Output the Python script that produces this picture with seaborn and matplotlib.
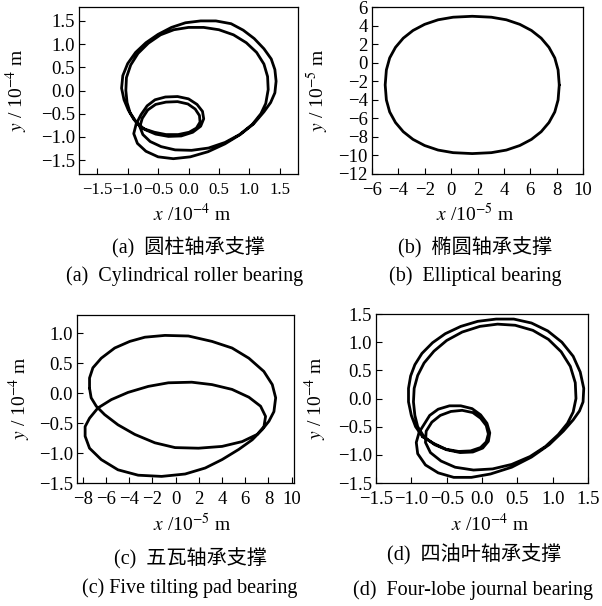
import matplotlib
matplotlib.use("Agg")
import matplotlib.pyplot as plt
import pandas as pd
import seaborn as sns

# ---------------- orbit data (units shown on each axis label) ----------------
# (a) cylindrical roller bearing: big loop, inner loop, second big loop, second inner loop
a_big1_x = [-0.78, -0.90, -0.99, -1.06, -1.10, -1.08, -1.00, -0.87, -0.70, -0.50, -0.28, -0.05, 0.20, 0.45, 0.70,
            0.90, 1.08, 1.24, 1.36, 1.42, 1.44, 1.42, 1.35, 1.24, 1.07, 0.85, 0.60, 0.32, 0.03, -0.25,
            -0.50, -0.70, -0.84, -0.90, -0.86]
a_big1_y = [-0.80, -0.62, -0.42, -0.20, 0.05, 0.32, 0.58, 0.82, 1.03, 1.21, 1.36, 1.46, 1.50, 1.50, 1.44,
            1.30, 1.12, 0.90, 0.68, 0.45, 0.20, -0.05, -0.26, -0.46, -0.72, -0.95, -1.15, -1.32, -1.43, -1.47,
            -1.43, -1.31, -1.14, -0.93, -0.72]
a_small1_x = [-0.78, -0.68, -0.55, -0.38, -0.18, 0.00, 0.14, 0.23, 0.25, 0.20, 0.07, -0.12, -0.33, -0.54, -0.72]
a_small1_y = [-0.52, -0.33, -0.20, -0.14, -0.13, -0.18, -0.30, -0.45, -0.61, -0.77, -0.90, -0.98, -0.99, -0.94, -0.84]
a_big2_x = [-0.86, -0.96, -1.01, -1.03, -1.02, -0.95, -0.83, -0.66, -0.46, -0.24, 0.00, 0.25, 0.50, 0.74, 0.95,
            1.12, 1.24, 1.30, 1.31, 1.27, 1.19, 1.05, 0.84, 0.60, 0.33, 0.05, -0.22, -0.45, -0.63, -0.75, -0.80]
a_big2_y = [-0.68, -0.48, -0.26, 0.00, 0.28, 0.55, 0.80, 1.02, 1.20, 1.31, 1.36, 1.36, 1.31, 1.20, 1.03,
            0.82, 0.57, 0.30, 0.02, -0.28, -0.50, -0.73, -0.95, -1.12, -1.24, -1.29, -1.28, -1.21, -1.10, -0.95, -0.78]
a_small2_x = [-0.76, -0.67, -0.54, -0.37, -0.18, -0.01, 0.11, 0.18, 0.19, 0.13, 0.01, -0.17, -0.37, -0.56, -0.70, -0.78]
a_small2_y = [-0.60, -0.42, -0.30, -0.25, -0.24, -0.29, -0.40, -0.54, -0.68, -0.81, -0.90, -0.95, -0.95, -0.90, -0.84, -0.80]

# (b) elliptical bearing: single closed orbit
b_x = [8.20, 8.11, 7.86, 7.42, 6.83, 6.09, 5.21, 4.19, 3.05, 1.60, 0.15, -0.99, -2.01, -2.89, -3.63,
       -4.22, -4.66, -4.91, -5.00, -4.91, -4.66, -4.22, -3.63, -2.89, -2.01, -0.99, 0.15, 1.60, 3.05, 4.19,
       5.21, 6.09, 6.83, 7.42, 7.86, 8.11, 8.20]
b_y = [-2.40, -0.78, 0.51, 1.65, 2.64, 3.47, 4.13, 4.62, 4.90, 5.00, 4.90, 4.62, 4.13, 3.47, 2.64,
       1.65, 0.51, -0.78, -2.40, -4.02, -5.31, -6.45, -7.44, -8.27, -8.93, -9.42, -9.70, -9.80, -9.70, -9.42,
       -8.93, -8.27, -7.44, -6.45, -5.31, -4.02, -2.40]

# (c) five tilting pad bearing: two interlaced loops traced as one path
c_x = [-7.42, -7.42, -7.13, -6.41, -5.25, -3.95, -2.65, -0.92, 1.10, 3.13, 4.86, 6.31, 7.60, 8.33, 8.62,
       8.47, 8.04, 7.46, 6.60, 5.44, 4.00, 2.55, 0.82, -1.21, -3.23, -4.97, -6.41, -7.42, -7.80, -7.80,
       -7.42, -6.70, -5.54, -4.10, -2.36, -0.63, 1.39, 3.13, 4.86, 6.31, 7.32, 7.75, 7.61, 7.03, 5.73,
       4.00, 1.97, -0.05, -1.79, -3.52, -4.97, -6.12, -6.84, -7.28, -7.42]
c_y = [0.08, 0.25, 0.42, 0.58, 0.75, 0.86, 0.93, 0.96, 0.95, 0.86, 0.75, 0.58, 0.36, 0.14, -0.08,
       -0.31, -0.47, -0.61, -0.78, -0.94, -1.11, -1.25, -1.35, -1.39, -1.37, -1.28, -1.11, -0.92, -0.72, -0.56,
       -0.42, -0.25, -0.11, 0.01, 0.11, 0.17, 0.18, 0.14, 0.06, -0.07, -0.22, -0.39, -0.56, -0.69, -0.81,
       -0.89, -0.92, -0.91, -0.83, -0.69, -0.53, -0.36, -0.22, -0.08, 0.08]

# (d) four-lobe journal bearing
d_big1_x = [-0.84, -0.94, -1.00, -1.04, -1.04, -1.01, -0.95, -0.85, -0.70, -0.52, -0.30, -0.06, 0.20, 0.45, 0.70,
            0.93, 1.13, 1.29, 1.39, 1.44, 1.43, 1.38, 1.29, 1.15, 0.95, 0.70, 0.42, 0.12, -0.15, -0.40,
            -0.62, -0.80, -0.91, -0.93, -0.89]
d_big1_y = [-0.68, -0.50, -0.30, -0.06, 0.18, 0.40, 0.60, 0.80, 0.99, 1.15, 1.28, 1.37, 1.41, 1.41, 1.34,
            1.20, 1.00, 0.75, 0.47, 0.18, -0.06, -0.22, -0.38, -0.58, -0.82, -1.04, -1.22, -1.34, -1.40, -1.40,
            -1.32, -1.18, -0.98, -0.78, -0.60]
d_small1_x = [-0.82, -0.74, -0.62, -0.46, -0.30, -0.14, -0.02, 0.07, 0.11, 0.09, 0.01, -0.13, -0.31, -0.50, -0.67]
d_small1_y = [-0.46, -0.30, -0.19, -0.13, -0.13, -0.18, -0.29, -0.44, -0.61, -0.76, -0.88, -0.95, -0.96, -0.91, -0.82]
d_big2_x = [-0.82, -0.91, -0.95, -0.97, -0.96, -0.91, -0.82, -0.68, -0.50, -0.28, -0.03, 0.22, 0.47, 0.72, 0.94,
            1.12, 1.25, 1.32, 1.33, 1.29, 1.21, 1.08, 0.90, 0.68, 0.42, 0.15, -0.12, -0.38, -0.58, -0.73, -0.80]
d_big2_y = [-0.68, -0.50, -0.30, -0.06, 0.18, 0.41, 0.63, 0.84, 1.03, 1.18, 1.28, 1.32, 1.30, 1.21, 1.05,
            0.83, 0.57, 0.28, 0.00, -0.24, -0.44, -0.64, -0.85, -1.03, -1.17, -1.25, -1.27, -1.22, -1.11, -0.96, -0.78]
d_small2_x = [-0.79, -0.71, -0.59, -0.44, -0.28, -0.13, -0.02, 0.06, 0.09, 0.06, -0.02, -0.16, -0.33, -0.51, -0.68, -0.84]
d_small2_y = [-0.58, -0.42, -0.30, -0.23, -0.21, -0.25, -0.35, -0.48, -0.63, -0.77, -0.87, -0.93, -0.94, -0.90, -0.80, -0.68]

# tick values
a_xticks = [-1.5, -1.0, -0.5, 0.0, 0.5, 1.0, 1.5]
a_yticks = [-1.5, -1.0, -0.5, 0.0, 0.5, 1.0, 1.5]
b_xticks = [-6, -4, -2, 0, 2, 4, 6, 8, 10]
b_yticks = [-12, -10, -8, -6, -4, -2, 0, 2, 4, 6]
c_xticks = [-8, -6, -4, -2, 0, 2, 4, 6, 8, 10]
c_yticks = [-1.5, -1.0, -0.5, 0.0, 0.5, 1.0]
d_xticks = [-1.5, -1.0, -0.5, 0.0, 0.5, 1.0, 1.5]
d_yticks = [-1.5, -1.0, -0.5, 0.0, 0.5, 1.0, 1.5]

# texts
a_labels = (r"$x$ /10$^{-4}$ m", r"$y$ / 10$^{-4}$ m", "(a)  圆柱轴承支撑", "(a)  Cylindrical roller bearing")
b_labels = (r"$x$ /10$^{-5}$ m", r"$y$ / 10$^{-5}$ m", "(b)  椭圆轴承支撑", "(b)  Elliptical bearing")
c_labels = (r"$x$ /10$^{-5}$ m", r"$y$ / 10$^{-4}$ m", "(c)  五瓦轴承支撑", "(c) Five tilting pad bearing")
d_labels = (r"$x$ /10$^{-4}$ m", r"$y$ / 10$^{-4}$ m", "(d)  四油叶轴承支撑", "(d)  Four-lobe journal bearing")

orbit_a = pd.DataFrame({"x": a_big1_x + a_small1_x + a_big2_x + a_small2_x,
                        "y": a_big1_y + a_small1_y + a_big2_y + a_small2_y})
orbit_b = pd.DataFrame({"x": b_x, "y": b_y})
orbit_c = pd.DataFrame({"x": c_x, "y": c_y})
orbit_d = pd.DataFrame({"x": d_big1_x + d_small1_x + d_big2_x + d_small2_x,
                        "y": d_big1_y + d_small1_y + d_big2_y + d_small2_y})

sns.set_theme(style="ticks")
plt.rcParams["font.family"] = ["Liberation Serif", "Noto Sans CJK SC"]
plt.rcParams["mathtext.fontset"] = "stix"
plt.rcParams["axes.unicode_minus"] = True
plt.rcParams["text.color"] = "black"

W, H = 602, 606
FS_TICK = 13.5
FS_LAB = 14
FS_CAP = 14.5
fig = plt.figure(figsize=(W / 100, H / 100), dpi=100)
fig.patch.set_facecolor("white")

# layout in pixels: axes box (left, top, right, bottom), x-label centre, caption centres
panels = [
    dict(data=orbit_a, box=(79, 7, 298, 174), xlim=(-1.8, 1.8), ylim=(-1.8, 1.8), xfs=12,
         xt=a_xticks, yt=a_yticks, txt=a_labels, xl=(192, 214), yl=17, cap=(188, 248, 185, 276)),
    dict(data=orbit_b, box=(372, 7, 583, 174), xlim=(-6, 10), ylim=(-12, 6), xfs=FS_TICK,
         xt=b_xticks, yt=b_yticks, txt=b_labels, xl=(475, 214), yl=318, cap=(475, 248, 475, 276)),
    dict(data=orbit_c, box=(77, 315, 294, 483), xlim=(-8.5, 10.2), ylim=(-1.5, 1.3), xfs=FS_TICK,
         xt=c_xticks, yt=c_yticks, txt=c_labels, xl=(192, 524), yl=20, cap=(190, 559, 190, 588)),
    dict(data=orbit_d, box=(376, 314, 588, 483), xlim=(-1.5, 1.5), ylim=(-1.5, 1.5), xfs=FS_TICK,
         xt=d_xticks, yt=d_yticks, txt=d_labels, xl=(490, 524), yl=316, cap=(474, 555, 473, 590)),
]

for p in panels:
    l, t, r, b = p["box"]
    ax = fig.add_axes([l / W, 1 - b / H, (r - l) / W, (b - t) / H])
    sns.lineplot(data=p["data"], x="x", y="y", sort=False, estimator=None,
                 color="black", linewidth=2.0, ax=ax)
    ax.set_xlim(*p["xlim"])
    ax.set_ylim(*p["ylim"])
    ax.set_xticks(p["xt"])
    ax.set_yticks(p["yt"])
    ax.tick_params(axis="both", direction="in", length=4, width=0.8, color="black",
                   labelcolor="black", top=False, right=False)
    ax.tick_params(axis="x", pad=5.5, labelsize=p["xfs"])
    ax.tick_params(axis="y", pad=3, labelsize=FS_TICK)
    for s in ax.spines.values():
        s.set_color("black")
        s.set_linewidth(0.9)
        s.set_visible(True)
    ax.set_facecolor("white")
    ax.grid(False)
    xlab, ylab, cap_cn, cap_en = p["txt"]
    ax.set_xlabel("")
    ax.set_ylabel("")
    fig.text(p["xl"][0] / W, 1 - p["xl"][1] / H, xlab, ha="center", va="center", fontsize=FS_LAB)
    fig.text(p["yl"] / W, 1 - ((t + b) / 2) / H, ylab, ha="center", va="center",
             rotation=90, fontsize=FS_LAB)
    cx1, cy1, cx2, cy2 = p["cap"]
    fig.text(cx1 / W, 1 - cy1 / H, cap_cn, ha="center", va="center", fontsize=FS_CAP)
    fig.text(cx2 / W, 1 - cy2 / H, cap_en, ha="center", va="center", fontsize=FS_CAP)

fig.savefig("out.png", dpi=100, facecolor="white")
